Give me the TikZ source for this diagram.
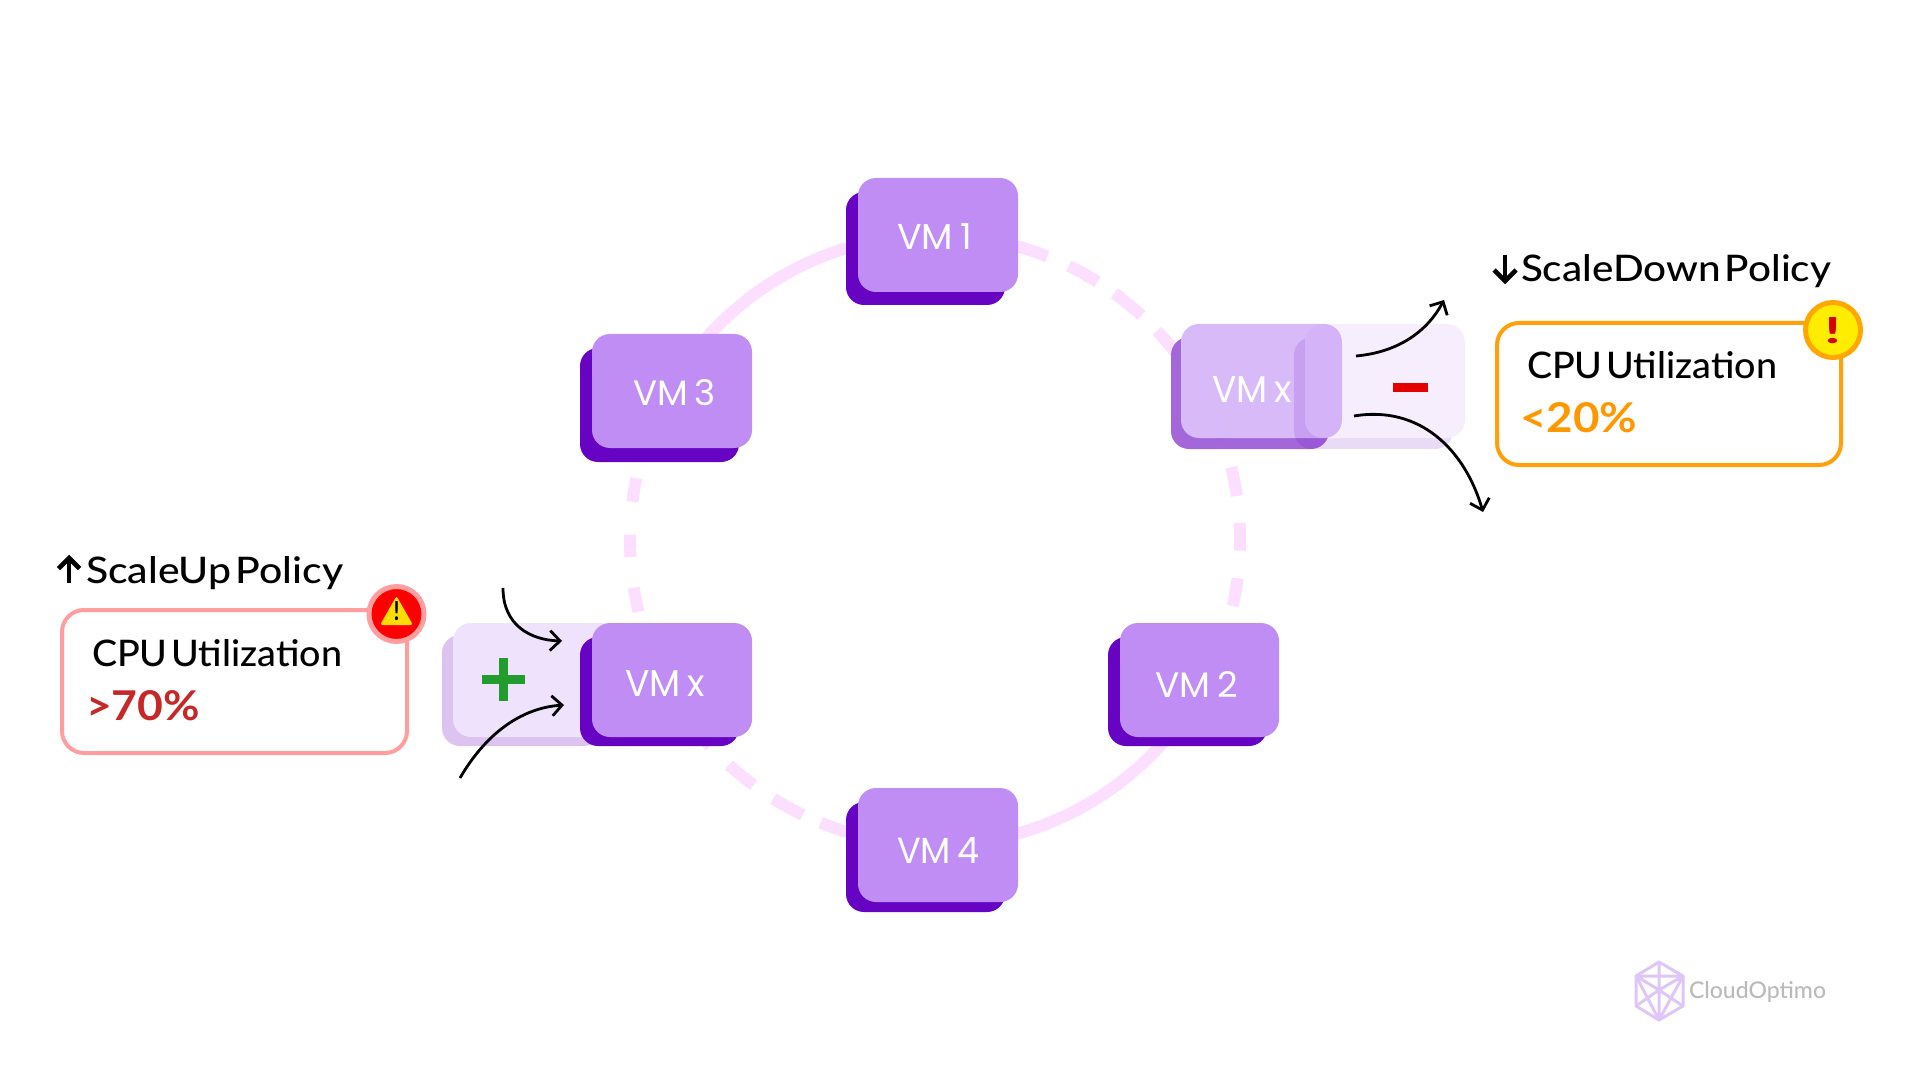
\documentclass[tikz,border=0pt]{standalone}
\usepackage{fontspec}
\usepackage{graphicx}
\usetikzlibrary{arrows.meta}
\setmainfont{Lato Medium}
\newfontfamily\vmfont{Poppins}
\newfontfamily\boldfont{Lato Bold}
\newlength\pxu \setlength\pxu{0.5pt}
\newcommand\fitt[3]{\resizebox{#1\pxu}{#2\pxu}{#3}}
\definecolor{vmlight}{HTML}{C08DF5}
\definecolor{vmdark}{HTML}{6703C2}
\definecolor{ringc}{HTML}{FCDFFF}
\definecolor{ghostlight}{HTML}{EFE2FC}
\definecolor{ghostdark}{HTML}{DDC3F0}
\definecolor{redbox}{HTML}{FF9E9E}
\definecolor{orangebox}{HTML}{FF9F0A}
\definecolor{plusg}{HTML}{229C2F}
\definecolor{logoc}{HTML}{DFC6F9}
\definecolor{pctred}{HTML}{C62828}
\definecolor{pctorange}{HTML}{FF9800}
\tikzset{
  card/.style={rounded corners=9pt,inner sep=0,outer sep=0,draw=none},
  vmtop/.style={card,fill=vmlight},
  vmback/.style={card,fill=vmdark},
  txt/.style={anchor=base west,inner sep=0,outer sep=0},
  vmtxt/.style={txt,text=white},
  ringarc/.style={draw=ringc,line width=6pt},
  flow/.style={draw=black,line width=1.4pt,-{Straight Barb[length=5pt,width=10pt]}},
  policy/.style={draw=black,line width=2.3pt},
  rule/.style={draw,line width=2pt,rounded corners=11pt,fill=white,inner sep=0,outer sep=0},
  logoline/.style={draw=logoc,line width=1.5pt,line join=round}
}
\newcommand\vmcard[6]{% name, x0, y0, w, h, dark height
  \node[vmback,minimum width=159\pxu,minimum height=#6\pxu,anchor=north west] (#1b) at (#2-12,#3+14) {};
  \node[vmtop,minimum width=#4\pxu,minimum height=#5\pxu,anchor=north west] (#1) at (#2,#3) {};
}
\begin{document}
\begin{tikzpicture}[x=0.5pt,y=-0.5pt]
\useasboundingbox (0,0) rectangle (1920,1080);
\fill[white] (0,0) rectangle (1920,1080);

% ring
\begin{scope}[shift={(935,540)},x=0.5pt,y=0.5pt]
  \draw[ringarc] (95:152.5pt) arc[start angle=95,end angle=145,radius=152.5pt];
  \draw[ringarc] (285:152.5pt) arc[start angle=285,end angle=325,radius=152.5pt];
  \foreach \a/\b in {68.4/75,57.8/64,47.4/54,38/43.3,28/33,19/24,8.3/13.8,-2/3.2,-12.5/-7.2,
                     168.3/172.8,179/183.2,189/193.6,
                     217/222.5,227.5/233.5,238/244.3,248/256}
    \draw[ringarc] (\a:152.5pt) arc[start angle=\a,end angle=\b,radius=152.5pt];
\end{scope}

% VM cards
\vmcard{vmone}{858}{178}{160}{114}{113}
\vmcard{vmthree}{592}{334}{160}{114}{114}
\vmcard{vmfour}{858}{788}{160}{114}{110}
\vmcard{vmtwo}{1120}{623}{159}{114}{109}

% scale up ghost
\node[card,fill=ghostdark,minimum width=159\pxu,minimum height=111\pxu,anchor=north west] (upghostb) at (442,635) {};
\node[card,fill=ghostlight,minimum width=165\pxu,minimum height=114\pxu,anchor=north west] (upghost) at (453,623) {};
\vmcard{vmxnew}{592}{623}{160}{114}{109}

% labels
\node[vmtxt] (lone) at (897,250) {\fitt{75}{26}{\vmfont VM\hspace{.2em}1}};
\node[vmtxt] (lthree) at (633,406) {\fitt{83}{26}{\vmfont VM\hspace{.2em}3}};
\node[vmtxt] (lfour) at (897,863) {\fitt{83}{26}{\vmfont VM\hspace{.2em}4}};
\node[vmtxt] (ltwo) at (1155,697) {\fitt{83}{26}{\vmfont VM\hspace{.2em}2}};
\node[vmtxt] (lx) at (625,696) {\fitt{80}{26}{\vmfont VM\hspace{.2em}x}};

% plus
\fill[plusg] (499,658) rectangle (508,701);
\fill[plusg] (482,675) rectangle (525,684);
\node[inner sep=0] (plussign) at (503.5,679.5) {};

% scale down ghosts
\node[card,fill=white,fill opacity=.8,minimum width=158\pxu,minimum height=112\pxu,anchor=north west] (oldbveil) at (1171,337) {};
\node[card,fill=white,fill opacity=.8,minimum width=161\pxu,minimum height=114\pxu,anchor=north west] (oldveil) at (1181,324) {};
\begin{scope}[transparency group,opacity=.6]
  \node[vmback,minimum width=158\pxu,minimum height=112\pxu,anchor=north west] (oldb) at (1171,337) {};
  \node[vmtop,minimum width=161\pxu,minimum height=114\pxu,anchor=north west] (old) at (1181,324) {};
  \node[vmtxt] (lold) at (1212,402) {\fitt{80}{26}{\vmfont VM\hspace{.2em}x}};
\end{scope}
\begin{scope}[transparency group,opacity=.14]
  \node[vmback,minimum width=159\pxu,minimum height=112\pxu,anchor=north west] (paleb) at (1294,337) {};
  \node[vmtop,minimum width=160\pxu,minimum height=114\pxu,anchor=north west] (pale) at (1305,324) {};
\end{scope}
\fill[red!90!black] (1393,383) rectangle (1428,392);
\node[inner sep=0] (minussign) at (1410.5,387.5) {};

% flow arrows
\coordinate (upa) at (503,588); \coordinate (upb) at (562,641);
\coordinate (upc) at (460,778); \coordinate (upd) at (564,705);
\coordinate (doa) at (1356,356); \coordinate (dob) at (1444,300);
\coordinate (doc) at (1354,416); \coordinate (dod) at (1483,512);
\draw[flow] (upa) .. controls (503,625) and (530,640) .. (upb);
\draw[flow] (upc) .. controls (485,735) and (520,708) .. (upd);
\draw[flow] (doa) .. controls (1400,352) and (1428,330) .. (dob);
\draw[flow] (doc) .. controls (1420,405) and (1465,450) .. (dod);

% scale up policy
\coordinate (uaa) at (69,583); \coordinate (uab) at (69,558);
\draw[policy] (uaa) -- (uab);
\draw[policy,line join=miter] (58.5,568.5) -- (uab) -- (79.5,568.5);
\node[txt] (suptxt) at (86,583.5) {\fitt{257}{27}{ScaleUp\hspace{.1em}Policy}};
\node[rule,draw=redbox,minimum width=345\pxu,minimum height=143\pxu,anchor=north west] (upbox) at (62,610) {};
\node[txt] (upcpu) at (92,666) {\fitt{250}{27}{CPU\hspace{.1em}Utilization}};
\node[txt,text=pctred] (uppct) at (86,720) {\fitt{114}{30}{\boldfont >70\%}};
\node[circle,fill=red,draw=redbox,line width=2.5pt,minimum size=55\pxu,inner sep=0] (upalert) at (396.5,614) {};
\fill[yellow!80!orange,rounded corners=1.2pt] (396.5,596) -- (413,625) -- (380,625) -- cycle;
\node[inner sep=0] (upbang) at (396.5,611) {\resizebox{6\pxu}{19\pxu}{\boldfont !}};

% scale down policy
\coordinate (daa) at (1505,255); \coordinate (dab) at (1505,281);
\draw[policy] (daa) -- (dab);
\draw[policy,line join=miter] (1494,270) -- (dab) -- (1516,270);
\node[txt] (sdowntxt) at (1521,282) {\fitt{310}{27}{ScaleDown\hspace{.1em}Policy}};
\node[rule,draw=orangebox,minimum width=344\pxu,minimum height=142\pxu,anchor=north west] (downbox) at (1497,323) {};
\node[txt] (downcpu) at (1527,379) {\fitt{250}{27}{CPU\hspace{.1em}Utilization}};
\node[txt,text=pctorange] (downpct) at (1520,432) {\fitt{117}{30}{\boldfont <20\%}};
\node[circle,fill=yellow!95!orange,draw=orange!70!yellow,line width=2.5pt,minimum size=55\pxu,inner sep=0] (downalert) at (1833,330) {};
\node[inner sep=0,text=red!85!black] (downbang) at (1832.5,331) {\resizebox{17\pxu}{26\pxu}{\boldfont !}};

% logo
\coordinate (lt) at (1659,962); \coordinate (lur) at (1683,976); \coordinate (llr) at (1683,1006);
\coordinate (lb) at (1659,1020); \coordinate (lll) at (1636,1006); \coordinate (lul) at (1636,976);
\coordinate (lc) at (1659,990);
\draw[logoline] (lt) -- (lur) -- (llr) -- (lb) -- (lll) -- (lul) -- cycle;
\draw[logoline] (lul) -- (lur) (lt) -- (lb) (lul) -- (lb) (lur) -- (lb) (lll) -- (lc) -- (llr) (lul) -- (lc) -- (lur);
\node[txt,text=black!27] (logotxt) at (1689,998) {\fitt{137}{17}{CloudOptimo}};
\end{tikzpicture}
\end{document}
